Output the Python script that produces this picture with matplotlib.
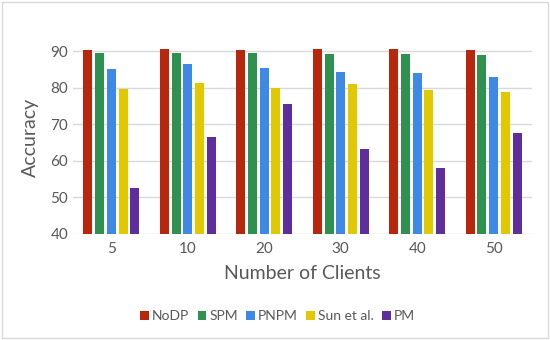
import matplotlib
matplotlib.use("Agg")
import matplotlib.pyplot as plt
import numpy as np

plt.rcParams["font.family"] = ["Lato", "DejaVu Sans"]

categories = ["5", "10", "20", "30", "40", "50"]
series_names = ["NoDP", "SPM", "PNPM", "Sun et al.", "PM"]
nodp = [90.3, 90.5, 90.4, 90.5, 90.5, 90.3]
spm = [89.4, 89.4, 89.5, 89.1, 89.1, 88.8]
pnpm = [85.2, 86.5, 85.4, 84.3, 83.9, 82.8]
sun = [79.5, 81.3, 79.8, 80.9, 79.3, 78.7]
pm = [52.5, 66.5, 75.6, 63.1, 57.9, 67.7]
yticks = [40, 50, 60, 70, 80, 90]

colors = ["#B8260C", "#2E9150", "#3F89E6", "#E2C800", "#5E2E9C"]
series = [nodp, spm, pnpm, sun, pm]

fig = plt.figure(figsize=(5.5, 3.4), dpi=100)
fig.patch.set_facecolor("white")
ax = fig.add_axes([0.133, 0.312, 0.834, 0.57])

x = np.arange(len(categories))
pitch = 0.153
width = 0.118
for i, (vals, c, name) in enumerate(zip(series, colors, series_names)):
    ax.bar(x + (i - 2) * pitch, vals, width=width, color=c, label=name, zorder=3)

ax.set_xlim(-0.5, len(categories) - 0.5)
ax.set_ylim(40, 93)
ax.set_yticks(yticks)
ax.set_xticks(x)
ax.set_xticklabels(categories)
ax.yaxis.grid(True, color="#D9D9D9", linewidth=1.0, zorder=0)
for s in ax.spines.values():
    s.set_visible(False)
ax.tick_params(axis="both", length=0, colors="#595959", labelsize=11)
ax.tick_params(axis="x", pad=6)
ax.set_xlabel("Number of Clients", fontsize=14, color="#595959", labelpad=6)
ax.set_ylabel("Accuracy", fontsize=14, color="#595959", labelpad=8)

leg = fig.legend(loc="center", bbox_to_anchor=(0.505, 0.07), ncol=5, frameon=False,
                 fontsize=10, handlelength=0.6, handleheight=0.6, handletextpad=0.25,
                 columnspacing=0.6)
for t in leg.get_texts():
    t.set_color("#595959")

border = plt.Rectangle((0.003, 0.005), 0.994, 0.99, transform=fig.transFigure,
                       fill=False, edgecolor="#D9D9D9", linewidth=1.0)
fig.patches.append(border)

fig.savefig("out.png", dpi=100)
